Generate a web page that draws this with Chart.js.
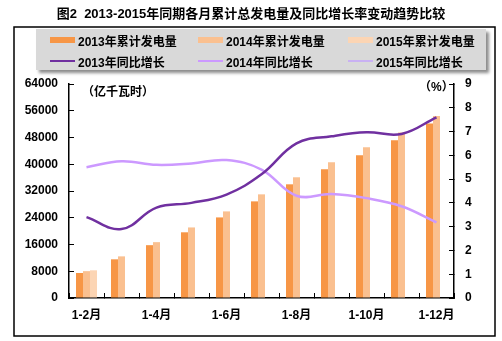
<!DOCTYPE html>
<html>
<head>
<meta charset="utf-8">
<script src="https://cdn.jsdelivr.net/npm/chart.js@4.4.1/dist/chart.umd.min.js"></script>
<style>
  body { margin: 0; background: #fff; overflow: hidden; }
  #wrap { position: relative; width: 502px; height: 341px; }
  #legend {
    position: absolute; left: 36px; top: 29px; width: 450px; height: 41px;
    background: #d9d9d9; box-shadow: 3px 3px 3px #8c8c8c;
    font: bold 12px 'Liberation Sans', Arial, 'Noto Sans CJK SC', sans-serif; color: #000;
  }
  .item { position: absolute; display: flex; align-items: center; height: 16px; white-space: nowrap; }
  .sw { display: inline-block; width: 25px; margin-right: 3px; }
</style>
</head>
<body>
<div id="wrap">
  <canvas id="chart" width="502" height="341"></canvas>
  <div id="legend"></div>
</div>
<script>
const months = ['1-2月', '1-3月', '1-4月', '1-5月', '1-6月', '1-7月', '1-8月', '1-9月', '1-10月', '1-11月', '1-12月'];

// 累计发电量 (亿千瓦时)
const gen2013 = [7480, 11570, 15800, 19650, 24100, 28900, 34000, 38500, 42700, 47200, 52200];
const gen2014 = [8030, 12450, 16700, 21100, 25900, 31000, 36100, 40600, 45100, 49500, 54400];
const gen2015 = [8280, null, null, null, null, null, null, null, null, null, null];

// 同比增长 (%)
const growth2013 = [3.4, 2.9, 3.8, 4.0, 4.35, 5.2, 6.5, 6.8, 6.97, 6.9, 7.6];
const growth2014 = [5.5, 5.75, 5.6, 5.66, 5.8, 5.4, 4.3, 4.37, 4.2, 3.86, 3.18];
const growth2015 = [null, null, null, null, null, null, null, null, null, null, null];

const leftTicks = [0, 8000, 16000, 24000, 32000, 40000, 48000, 56000, 64000];
const rightTicks = [0, 1, 2, 3, 4, 5, 6, 7, 8, 9];

const FONT = "'Liberation Sans', Arial, 'Noto Sans CJK SC', sans-serif";

function barSet(label, data, color) {
  return { type: 'bar', label: label, data: data, backgroundColor: color, yAxisID: 'y',
    categoryPercentage: 0.6, barPercentage: 1.0, order: 1 };
}
function lineSet(label, data, color) {
  return { type: 'line', label: label, data: data, borderColor: color, backgroundColor: color,
    borderWidth: 2.5, pointRadius: 0, tension: 0.4, fill: false, yAxisID: 'y1', order: 0 };
}

const frame = {
  id: 'frame',
  beforeDraw(chart) {
    const ctx = chart.ctx;
    ctx.save();
    ctx.fillStyle = '#fff';
    ctx.fillRect(0, 0, chart.width, chart.height);
    ctx.strokeStyle = '#000';
    ctx.lineWidth = 1.5;
    ctx.strokeRect(14, 27, 481, 309);
    ctx.restore();
  },
  afterDraw(chart) {
    const ctx = chart.ctx, a = chart.chartArea;
    ctx.save();
    ctx.fillStyle = '#000';
    ctx.font = 'bold 12px ' + FONT;
    ctx.textBaseline = 'middle';
    ctx.textAlign = 'left';
    ctx.fillText('（亿千瓦时）', a.left + 13, a.top + 9);
    ctx.fillText('（%）', a.right - 35, a.top + 4);
    ctx.restore();
  }
};

const tickFont = { family: FONT, size: 12, weight: 'bold' };

const chart = new Chart(document.getElementById('chart'), {
  data: {
    labels: months,
    datasets: [
      barSet('2013年累计发电量', gen2013, '#f79646'),
      barSet('2014年累计发电量', gen2014, '#fac090'),
      barSet('2015年累计发电量', gen2015, '#fcd5b4'),
      lineSet('2013年同比增长', growth2013, '#7030a0'),
      lineSet('2014年同比增长', growth2014, '#cc99ff'),
      lineSet('2015年同比增长', growth2015, '#c9b1f3')
    ]
  },
  options: {
    responsive: false,
    animation: false,
    devicePixelRatio: 1,
    layout: { padding: 0 },
    plugins: {
      legend: { display: false },
      tooltip: { enabled: false },
      title: {
        display: true,
        text: '图2  2013-2015年同期各月累计总发电量及同比增长率变动趋势比较',
        color: '#000',
        font: { family: FONT, size: 13, weight: 'bold' },
        padding: { top: 7, bottom: 61.4 }
      }
    },
    scales: {
      x: {
        grid: { display: true, drawOnChartArea: false, tickLength: -5, color: '#000', offset: true },
        border: { color: '#000', width: 1.5 },
        ticks: {
          autoSkip: false, maxRotation: 0, color: '#000', font: tickFont, padding: 15,
          callback: function (value, index) { return index % 2 === 0 ? months[index] : ''; }
        },
        afterFit: function (s) { s.height = 43; }
      },
      y: {
        position: 'left', min: 0, max: 64000,
        grid: { drawOnChartArea: false, tickLength: -5, color: '#000' },
        border: { color: '#000', width: 1.5 },
        afterBuildTicks: function (s) { s.ticks = leftTicks.map(v => ({ value: v })); },
        ticks: { color: '#000', font: tickFont, padding: 16, callback: function (v) { return String(v); } },
        afterFit: function (s) { s.width = 69; }
      },
      y1: {
        position: 'right', min: 0, max: 9,
        grid: { drawOnChartArea: false, tickLength: -5, color: '#000' },
        border: { color: '#000', width: 1.5 },
        afterBuildTicks: function (s) { s.ticks = rightTicks.map(v => ({ value: v })); },
        ticks: { color: '#000', font: tickFont, padding: 16, callback: function (v) { return String(v); } },
        afterFit: function (s) { s.width = 48; }
      }
    }
  },
  plugins: [frame]
});

// legend in two rows of three, like the original
const legendBox = document.getElementById('legend');
const colX = [14, 162, 312];
const rowY = [3, 24];
chart.data.datasets.forEach(function (ds, i) {
  const item = document.createElement('div');
  item.className = 'item';
  item.style.left = colX[i % 3] + 'px';
  item.style.top = rowY[Math.floor(i / 3)] + 'px';
  const sw = document.createElement('span');
  sw.className = 'sw';
  sw.style.height = ds.type === 'bar' ? '6px' : '2px';
  sw.style.background = ds.type === 'bar' ? ds.backgroundColor : ds.borderColor;
  const txt = document.createElement('span');
  txt.textContent = ds.label;
  item.appendChild(sw);
  item.appendChild(txt);
  legendBox.appendChild(item);
});
</script>
</body>
</html>
